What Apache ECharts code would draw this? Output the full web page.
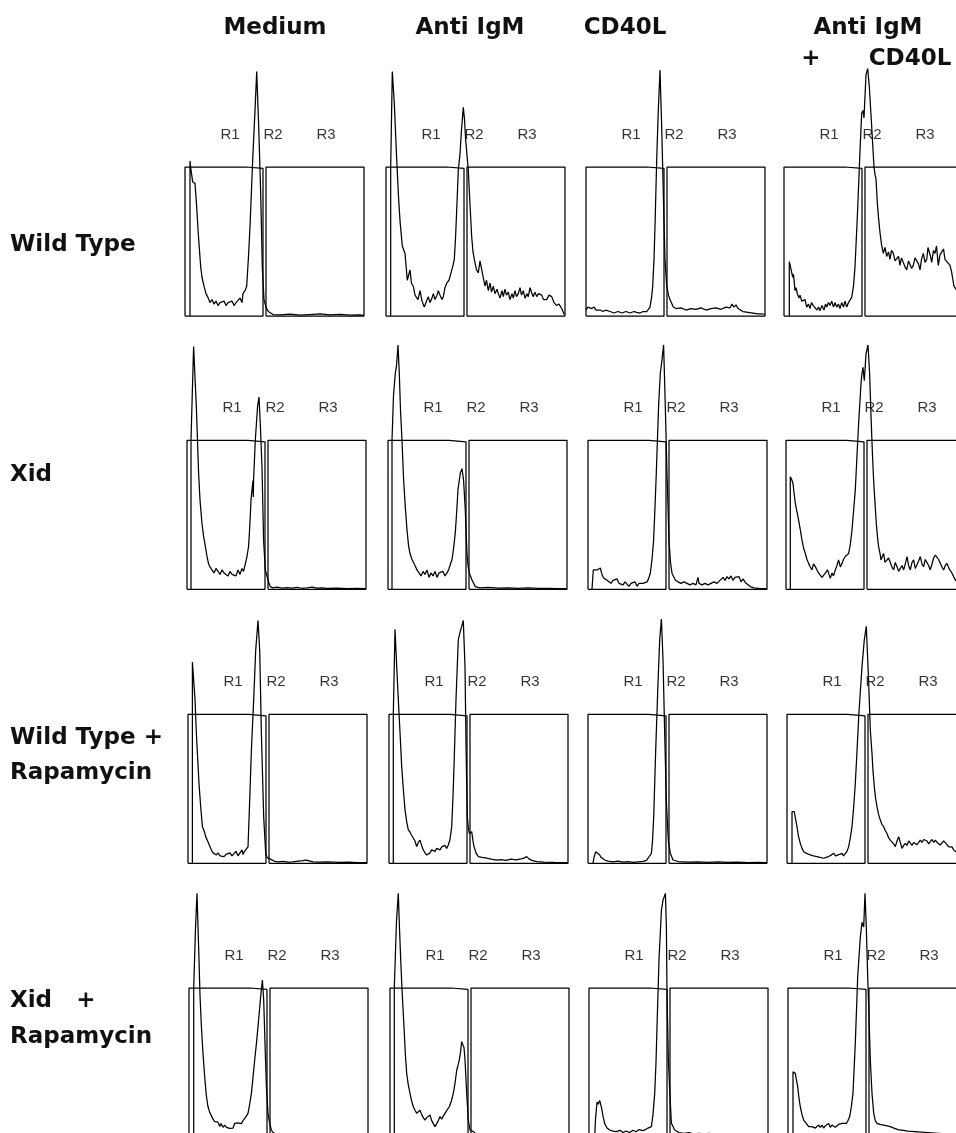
<!DOCTYPE html>
<html><head><meta charset="utf-8">
<script src="https://cdn.jsdelivr.net/npm/echarts@6/dist/echarts.min.js"></script>
<style>html,body{margin:0;padding:0;background:#fff}#c{width:956px;height:1133px}</style>
</head><body><div id="c"></div>
<script>
// ---------- data ----------
const columnHeaders = ['Medium', 'Anti IgM', 'CD40L', 'Anti IgM', '+', 'CD40L'];
const rowLabels = ['Wild Type', 'Xid', 'Wild Type +', 'Rapamycin', 'Xid', '+', 'Rapamycin'];
const regionNames = ['R1', 'R2', 'R3'];
const regionLabelX = [45, 88, 141];
const regionLabelY = 121.5;
const gateR1 = [[0,0],[0,100],[61,100],[62,99],[78,99],[78,0],[0,0]];
const gateR3 = [[81,0],[81,100],[179,100],[179,0],[81,0]];

// Row 1: Wild Type
const wtMedium = [[5,0],[5,104],[6,98],[7.7,90],[10,89],[11.5,75],[13.3,55],[15.7,33],[17,26],[19,20],[21,15],[23.3,12],[25,9],[27,11],[29,8],[31,10],[33,7],[35,9],[37,8],[39,10],[41,7],[43,9],[45,8],[47,10],[49,7],[51,9],[53,8],[55,12],[57,9],[58,15],[60,17],[61.7,20],[63.5,40],[65,60],[67.7,105],[70,138],[71.7,164],[73.7,127],[75.7,82],[77.3,33],[79,11],[81,6],[83.3,3],[88,1],[95,0.8],[105,1.2],[115,0.6],[125,1],[135,1.4],[145,0.8],[155,1.1],[165,0.6],[175,0.8],[179,0.5]];
const wtAntiIgM = [[4.7,0],[4.7,100],[6.3,164],[8.3,143],[10.7,105],[12.5,80],[14,64],[16.3,47],[19,42],[21.3,24],[24,31],[25.5,22],[27.3,20],[29,14],[30.7,15],[32,11],[34,17],[36,10],[38.3,6],[40,9],[42.3,13],[44,9],[46,12],[47.3,15],[49,11],[51,14],[52.3,17],[54,14],[56,11],[57.3,13],[59,19],[60.7,22],[63,24],[65,29],[67,34],[68.3,38],[69.5,52],[70.7,71],[72.3,98],[74,109],[75.5,125],[77.3,140],[78.5,132],[79.7,118],[82.3,98],[84,75],[85.7,53],[87,43],[88.3,38],[90.5,31],[92.3,29],[94,37],[95.7,36],[97.5,25],[99,20],[100.5,24],[102.3,17],[104,22],[105.5,16],[107.3,20],[109,15],[111,18],[112.3,15],[114,12],[116,17],[117.3,13],[119,18],[120.5,14],[122.3,16],[124,11],[126,15],[127.3,12],[129,17],[130.5,13],[132.3,15],[134,19],[135.5,14],[137.3,17],[139,12],[141,15],[142.3,13],[144,19],[145.7,18],[147,13],[149,16],[150.7,13],[152.5,15],[155.7,14],[157.5,11],[160.7,11],[163,14],[165.7,13],[168,9],[170.7,7],[173,8],[175.7,5],[178.3,1]];
const wtCD40L = [[0,4],[2,6],[4,5],[5.7,5],[8,6],[10,4],[12,5],[14,4],[17,3],[20,4],[24,3],[28,2],[32,3],[36,2],[40,3],[44,2],[48,3],[50.7,2.5],[54,2],[57,3],[60.7,3],[62.5,4],[64,6],[65.5,12],[66.7,20],[68,38],[69,60],[70.7,105],[72.3,138],[74,165],[75.7,127],[77.3,82],[79,38],[80.7,20],[82.5,14],[84,11],[87.3,6],[90,5],[95,5.5],[100,4],[105,5],[110,4.5],[115,5.5],[120,4],[125,5],[130,5.5],[135,4.5],[140,6],[142,7],[144,5.5],[146,8],[148,6],[150,7.5],[152,5],[154,6],[157,3],[162,2.5],[167,2],[172,1.5],[175.7,1.5],[179,1]];
const wtBoth = [[5.3,0],[5.3,36.5],[6.7,36],[7.5,30],[8.7,26],[9.5,28],[11,17],[12,19],[13.3,15],[15,12],[16,14],[17.7,10],[19.5,9],[21,11],[22.7,6],[24.5,8],[26,5],[27.5,9],[29.3,7],[31,8],[33,4],[34.5,6],[36,3.6],[38,7],[40,4],[41.5,8],[42.7,6],[44.5,9],[46,7],[47.7,10],[49.5,6],[51,9],[52.7,6],[54.5,8],[56,5],[57.7,9],[59.5,6],[61,10],[62.7,6],[64.5,9],[66,8],[67.7,12.5],[69.5,20],[71,33],[73.3,66],[76,111],[77.7,136],[79,138],[80,133],[82,162],[83.7,166],[85.3,154],[87.7,127],[90,100],[91,95],[92,92],[93.3,76],[94.5,66],[96,56],[97.5,48],[99.3,42],[101,46],[102.7,40],[104.5,43],[106,38],[107.5,44],[109.3,42],[111,37],[112.7,36],[114.5,40],[116,34],[117.5,39],[119.3,38],[121,33],[122.7,31],[124.5,37],[126,36],[127.5,32],[129.3,34],[131,39],[132.7,40],[134.5,35],[136,31],[137.5,38],[139.3,42],[141,36],[142.7,38],[144,46],[145.3,45],[146.5,40],[147.7,36],[149.5,44],[151,42],[152.5,47],[154.3,34],[156,41],[157.7,40],[159.5,45],[161,38],[163.5,36],[166,34],[167.5,30],[168.7,25],[170,20],[172,18],[175,14]];

// Row 2: Xid
const xidMedium = [[4,0],[4,100],[6.6,163],[9.3,123],[11.6,78],[13,60],[15,44],[16.5,36],[18.3,29],[20,22],[21.6,17],[23,15],[25,13],[27,11],[29,14],[31,12],[33,10],[35,13],[37,11],[39,12],[41,9],[43,12],[45,10],[47,11],[49,9],[51,13],[53,10],[55,14],[56.6,12],[58.3,17],[60,22],[61.6,29],[63,45],[64,60],[65.5,70],[66,73],[66.3,62],[66.6,74],[68.3,100],[70.6,123],[72,129],[73.3,111],[75,82],[76.6,33],[78.3,13],[80.6,7.4],[82,4],[83.3,1.8],[86,1],[90,1.5],[95,0.8],[100,1.2],[105,0.8],[110,1.3],[115,0.7],[120,1],[125,1.5],[130,0.8],[135,1],[140,0.6],[150,0.8],[160,0.5],[170,0.6],[179,0.4]];
const xidAntiIgM = [[4,0],[4,100],[5.5,130],[7.3,145],[8.5,150],[10,164],[11.3,145],[12.5,120],[14,100],[15.5,75],[17.3,55],[19,40],[20.6,29],[22,24],[24,20],[25.5,21],[27,16],[29,13],[31,14],[33,9],[35,12],[37,10],[39,13],[41,8],[43,11],[45,9],[47,12],[49,8],[51,11],[53,10],[55,12],[57,9],[59,11],[60.6,13],[62,16],[64,20],[65.5,27],[67.3,38],[68.5,50],[70,67],[72.3,78],[74,81],[75.6,73],[77.3,53],[78,40],[79,24],[80,16],[81.3,11],[84,6.3],[87.3,1.8],[92,1],[100,1.3],[110,0.8],[120,1],[130,0.7],[140,1],[150,0.6],[160,0.7],[170,0.5],[179,0.4]];
const xidCD40L = [[4,0],[5.3,13],[7,12],[9,13],[10.5,12],[12.3,14.3],[14,10],[15.6,7.6],[17.5,8],[19,6],[21,7],[23,4],[25,6],[27,5],[29,7],[31,4],[33,5],[35,3],[37,5],[39,4],[41,2],[43,4],[45,3],[47,5],[49,2],[51,4],[53,3],[55,4],[57,3],[59,5],[60.5,7],[62.3,10.8],[64,20],[65.6,33],[67,55],[68.3,78],[70.6,123],[72.3,145],[74,154],[75.6,164],[77.3,123],[79,78],[81,33],[82.5,18],[84,10.8],[87.3,6.3],[90,5],[93,4],[96,5],[99,4],[102,3],[105,4],[108,3],[110,8],[111,4],[114,3],[117,4],[120,3],[123,4],[126,5],[129,4],[132,6],[135,8],[137,6],[139,8.5],[141,7],[143,9],[145,6],[147,8],[149,7],[151,8.5],[153,5],[155,7],[158,4],[162.3,1.8],[166,1],[172,0.5],[179,0.5]];
const xidBoth = [[4.3,0],[4.3,75.6],[5.5,74],[7,71],[8,65],[9.3,57.6],[11,52],[12.6,46.4],[14.3,40],[16,33],[17.5,28],[19.3,24],[21,20],[22.6,17.4],[24.3,15],[26,13],[27.5,17],[29.3,15.2],[31,13],[32.6,10.8],[34.5,12],[36,8],[37.6,8.5],[39.5,11],[41.6,13],[43,10],[44.3,7.4],[46,11],[47.5,9],[49.3,13],[51,16],[52.6,19.7],[54.3,15],[56,17.4],[57.5,20],[59.3,22],[61,21],[62.6,24],[64.3,30],[66,40],[67.5,52],[69.3,66.7],[71,90],[72.6,111],[75,138],[76,145],[77,149],[78.3,140],[80,158],[82,164],[83.6,145],[85.3,111],[86.5,90],[87.6,73.4],[89,58],[90.3,44.3],[91.5,35],[92.6,28.6],[94,24],[95,19.7],[96.3,22],[97.6,24],[99,18],[101,17.4],[102.6,21],[104.3,19.7],[106,15],[107.6,13],[109.3,18],[111,15.2],[112.6,12],[114.3,10.8],[116,16],[117.6,13],[119.3,17],[121,22],[122.6,16],[124.3,13],[126,18],[127.6,19.7],[129.3,14],[131,15.2],[132.6,19],[134.3,22],[136,17],[137.6,15.2],[139.3,20],[141,19.7],[142.6,16],[144.3,13],[146,17],[147.6,21],[149.3,23],[151,24],[152.6,20],[154.3,17.4],[156,15],[157.6,13],[159.3,16],[161,17.4],[163,14],[166,10.8],[168,8],[169.3,6.3],[171,5]];

// Row 3: Wild Type + Rapamycin
const wtRapaMedium = [[4.4,0],[4.4,135],[5.7,135],[7,110],[8.4,87],[9.7,70],[11,53.6],[12.7,38],[14.4,24.6],[16,22],[17.7,17.9],[19,16],[20,15.6],[21.5,12],[23.4,8.9],[25,7],[26.7,6],[28.4,5.6],[30,7],[32,5],[34,6],[36,4.5],[38,6],[40,5],[42,7],[44,5],[46,6],[48,8],[50,5],[52,6],[54,9],[55,6],[56.5,8],[58.4,7],[60,11],[61.7,42.5],[63.4,76],[65.7,110],[67.7,143],[70,163],[71.7,143],[73.4,87],[75.7,31],[77.7,6.7],[79,4],[80,3.3],[81,4.5],[82,3],[83.4,2.7],[86,1.5],[90,1],[95,1.3],[100,0.8],[105,1],[110,1.5],[115,1.8],[118,2.2],[120,1.5],[125,1],[130,0.8],[140,1],[150,0.6],[160,0.8],[170,0.5],[179,0.4]];
const wtRapaAntiIgM = [[4.3,0],[4.3,100],[6,157],[7.5,135],[9.3,110],[11,88],[12.7,65],[14.3,50],[16,36],[17.7,28],[19.3,22.4],[21,21],[22.5,19],[24.3,17.9],[26,15],[27.7,11.2],[29.3,14],[31,15.6],[32.6,12],[34.3,8.9],[36,7],[37.7,5.5],[39.3,4.5],[41,7],[42.7,9],[44.3,10],[46,8],[47.7,10],[49.3,11.2],[51,9],[52.7,11],[54.3,10],[56,12],[57.7,10],[59.3,12.3],[61,16],[62.7,24.6],[64,45],[65,65],[67,110],[69.3,150],[71,155],[72.7,159],[74.3,163],[76,132],[77,80],[77.5,60],[78.3,31.3],[79.3,24],[80.3,20],[81.5,19],[82.7,21.2],[84,15],[85,11.2],[87,7],[89.3,4.5],[93,4],[97.7,3.4],[102,2.8],[107.7,2.2],[112,2.5],[117,2],[122,2.8],[127,2.3],[132,3],[135,3.5],[137.7,4.5],[140,3],[143,2],[147.7,1.1],[155,0.8],[165,0.6],[179,0.4]];
const wtRapaCD40L = [[5,0],[6,4],[7.7,7.8],[9.5,7],[11.7,5.6],[13,4],[15,3],[16.7,2.2],[20,1.5],[25,1],[30,1.5],[35,0.8],[40,1.2],[45,0.7],[50,1],[55,1.3],[56.7,1],[58.5,2],[60,3.4],[61.7,4],[63.4,6.7],[64.5,15],[65.7,31],[67.7,76],[70,121],[71.7,150],[73.4,164],[75,137],[76.7,87],[78.3,42.5],[80.3,15.6],[82.3,6.7],[85,2.2],[90,1.2],[100,0.8],[110,1],[120,0.7],[130,0.9],[140,0.6],[150,0.8],[160,0.5],[170,0.6],[179,0.4]];
const wtRapaBoth = [[5,0],[5,34.6],[7.3,34.6],[8.5,30],[10,24.6],[11.5,18],[13.3,13.4],[15,10],[16.7,7.8],[20,6.5],[23.3,5.6],[26.5,5],[30,4.5],[33,4],[36.7,3.4],[39,4],[41.7,4.5],[44,5.5],[46.7,6.7],[48.5,5],[50,4.5],[52.5,6],[55,6.7],[56.5,5],[58.3,5.6],[60,8],[61.7,11.2],[63.3,17],[65,24.6],[66.7,38],[68.3,53.6],[70,75],[71.7,98.4],[73.3,115],[75,132],[77.3,150],[79.3,159],[80.5,140],[81.7,120.8],[83.3,89.5],[85,73.8],[86,62],[87.3,51.5],[88.5,44],[90,38],[91.5,33],[93.3,29],[95,26],[96.7,24.6],[98.3,22],[100,20],[101.7,17],[103.3,15.6],[105,16],[106.7,13],[108.3,11.2],[110,15],[111.7,17.9],[113.3,14],[115,10],[116.7,12],[118.3,13.4],[120,12],[121.7,15],[123.3,14.5],[125,12],[126.7,14],[128.3,13.4],[130,12.5],[131.7,14],[133.3,15.6],[135,14],[136.7,16],[138.3,16.8],[140,15],[141.7,13],[143.3,14.5],[145,16],[146.7,14],[148.3,15.6],[150,14],[151.7,13],[153.3,12.3],[155,13.5],[156.7,15],[158.3,14.5],[160,12.5],[161.7,11],[163.3,10],[165,11],[166.7,9],[168.3,7.8],[170,7]];

// Row 4: Xid + Rapamycin
const xidRapaMedium = [[4.7,0],[4.7,100],[6.5,140],[8,163.5],[10,119],[11,95],[12.4,74],[14,56],[15.7,40.4],[17.3,28],[19,20.3],[20.5,17],[22.4,15.9],[24,12],[25.7,10.3],[27.5,9],[29,10],[30.7,7],[32,9],[34,6.5],[35.7,8],[37.5,6.5],[39,7.5],[40.7,5.8],[42.5,7],[44,6],[45.7,9.2],[47.5,8],[49,9.5],[50.7,10.3],[52.5,9],[54,11],[55.7,12.5],[57.3,14],[59,15.9],[60.7,22],[62.4,29.3],[64,40],[65.7,51.7],[67.3,62],[69,74],[70.3,84],[71.4,92],[72.5,100],[73.4,105.4],[74.7,92],[76,63],[77.4,33.8],[79,15.9],[80.7,9.2],[82.4,4.7],[84,3],[87,2],[90,1.5],[95,1],[105,0.8],[115,1],[125,0.6],[140,0.8],[155,0.5],[170,0.6],[179,0.4]];
const xidRapaAntiIgM = [[4.3,0],[4.3,100],[6.5,145],[8.3,163.5],[9.5,140],[10.7,119],[12.3,95],[14,74],[15.3,56],[16.7,42.6],[18.3,35],[20,29.3],[21.7,24],[23.3,20.3],[25,18],[26.7,15.9],[28.3,17],[30,18],[31.7,15],[33.3,13],[35,11.4],[36.7,13],[38.3,12],[40,14.8],[41.7,11],[43.3,9],[45,7],[46.7,9],[48.3,11],[50,13.7],[51.7,12],[53.3,14],[55,15.9],[57,18],[59.3,20.3],[61.3,24],[63.3,29.3],[65,36],[66.7,44.8],[68,48],[69.3,51.7],[70.5,57],[71.7,64],[73.3,65],[74,60],[75,51.7],[76.7,29.3],[78.3,11.4],[80,4.7],[83.3,3.6],[86,2],[90,1.5],[100,1],[110,0.8],[120,1],[135,0.6],[150,0.8],[165,0.5],[179,0.4]];
const xidRapaCD40L = [[5.7,0],[6.5,12],[8,23.5],[9.3,22],[10.7,24.6],[12.4,20],[14,14],[15.7,9],[18,6],[20.7,4.7],[24,4],[27.4,3.6],[31,4.5],[34,3],[37,4],[40.7,3],[44,4.5],[47,3.5],[50,5],[52,3.8],[54,4.3],[56.5,5],[59,6],[60.5,5.5],[62.4,7],[64,15],[65.7,29.3],[67,50],[68,74],[70,119],[72.4,152],[74,159],[75.3,158],[76.4,163.5],[77.4,141],[78,96.4],[79.4,51.7],[80.7,31.5],[82.4,9.2],[85.7,4.7],[90,3],[95,2.5],[100,3],[105,2],[110,2.5],[115,2],[120,2.5],[125,1.8],[130,2],[140,1.5],[150,1.2],[160,1],[170,0.8],[179,0.5]];
const xidRapaBoth = [[5,0],[5,43.8],[7.3,42.7],[8.5,38],[9.7,33.8],[11,26],[12.3,20.3],[14,15],[15.7,11.4],[17.3,10],[19,9.2],[20.7,7],[22.3,5.8],[24,7],[25.7,8],[27.3,6],[29,5.8],[30.7,8],[32.3,6.5],[34,8],[35.7,6],[37.3,7.5],[39,7],[40.7,9],[42.3,6.5],[44,8],[45.7,9],[47.3,6.5],[49,7],[50.7,8.5],[52.3,7.5],[54,9.2],[56,8],[58.3,9.2],[60,11],[61.7,13.7],[63.3,20],[65,29.3],[67.3,63],[69.7,107.6],[72.3,134],[74,144],[75.7,141],[77,163.5],[78.3,141],[79.7,107.6],[80.7,87.5],[82.3,51.7],[84,29.3],[85.7,15.9],[87.3,11],[89,9.2],[92,8.5],[95.7,8],[99,7.5],[102.3,7],[106,6],[110,5],[115,4.5],[120,4],[130,3.5],[140,3],[150,2.5],[160,2],[170,2]];

const histograms = [
  [wtMedium, wtAntiIgM, wtCD40L, wtBoth],
  [xidMedium, xidAntiIgM, xidCD40L, xidBoth],
  [wtRapaMedium, wtRapaAntiIgM, wtRapaCD40L, wtRapaBoth],
  [xidRapaMedium, xidRapaAntiIgM, xidRapaCD40L, xidRapaBoth]
];

// ---------- layout ----------
const panelLeft = [[185,386,586,784],[187,388,588,786],[188,389,588,787],[189,390,589,788]];
const rowBottom = [316, 589.3, 863.3, 1137];
const boxH = 149, yMax = 170, xMax = 180;
const gridH = boxH * yMax / 100;

const grids = [], xAxes = [], yAxes = [], series = [];
const lineStyle = {color: '#000', width: 1.25};
let idx = 0;
for (let r = 0; r < 4; r++) {
  for (let c = 0; c < 4; c++) {
    grids.push({left: panelLeft[r][c], top: rowBottom[r] - gridH, width: xMax, height: gridH,
      containLabel: false, outerBoundsMode: 'none'});
    xAxes.push({type: 'value', gridIndex: idx, min: 0, max: xMax, show: false});
    yAxes.push({type: 'value', gridIndex: idx, min: 0, max: yMax, show: false});
    const common = {type: 'line', xAxisIndex: idx, yAxisIndex: idx, showSymbol: false, symbol: 'none',
      clip: false, silent: true, animation: false, lineStyle: lineStyle};
    series.push(Object.assign({data: histograms[r][c]}, common));
    series.push(Object.assign({data: gateR1}, common));
    series.push(Object.assign({data: gateR3}, common));
    series.push({type: 'scatter', xAxisIndex: idx, yAxisIndex: idx, symbolSize: 1, silent: true, animation: false,
      itemStyle: {color: 'rgba(0,0,0,0)'},
      label: {show: true, position: 'inside', formatter: '{b}', color: '#000',
        fontFamily: 'Liberation Sans, Arial, sans-serif', fontSize: 15},
      data: regionNames.map((n, i) => ({name: n, value: [regionLabelX[i], regionLabelY]}))});
    idx++;
  }
}

const hFont = 'bold 23px "DejaVu Sans", sans-serif';
function txt(t, x, y, align) {
  return {type: 'text', x: x, y: y, silent: true,
    style: {text: t, font: hFont, fill: '#111', textAlign: align, textVerticalAlign: 'middle',
      align: align, verticalAlign: 'middle'}};
}
const headerPos = [[275,28],[470,28],[625,28],[868,28],[811,59],[910,59]];
const rowPos = [[10,245],[10,475],[10,738],[10,773],[10,1001],[86,1001],[10,1037]];
const graphics = [];
columnHeaders.forEach((t, i) => graphics.push(txt(t, headerPos[i][0], headerPos[i][1], 'center')));
rowLabels.forEach((t, i) => graphics.push(txt(t, rowPos[i][0], rowPos[i][1], t === '+' ? 'center' : 'left')));

const chart = echarts.init(document.getElementById('c'), null, {renderer: 'canvas'});
chart.setOption({
  backgroundColor: '#fff',
  animation: false,
  grid: grids, xAxis: xAxes, yAxis: yAxes, series: series,
  graphic: {elements: graphics}
});
</script></body></html>
